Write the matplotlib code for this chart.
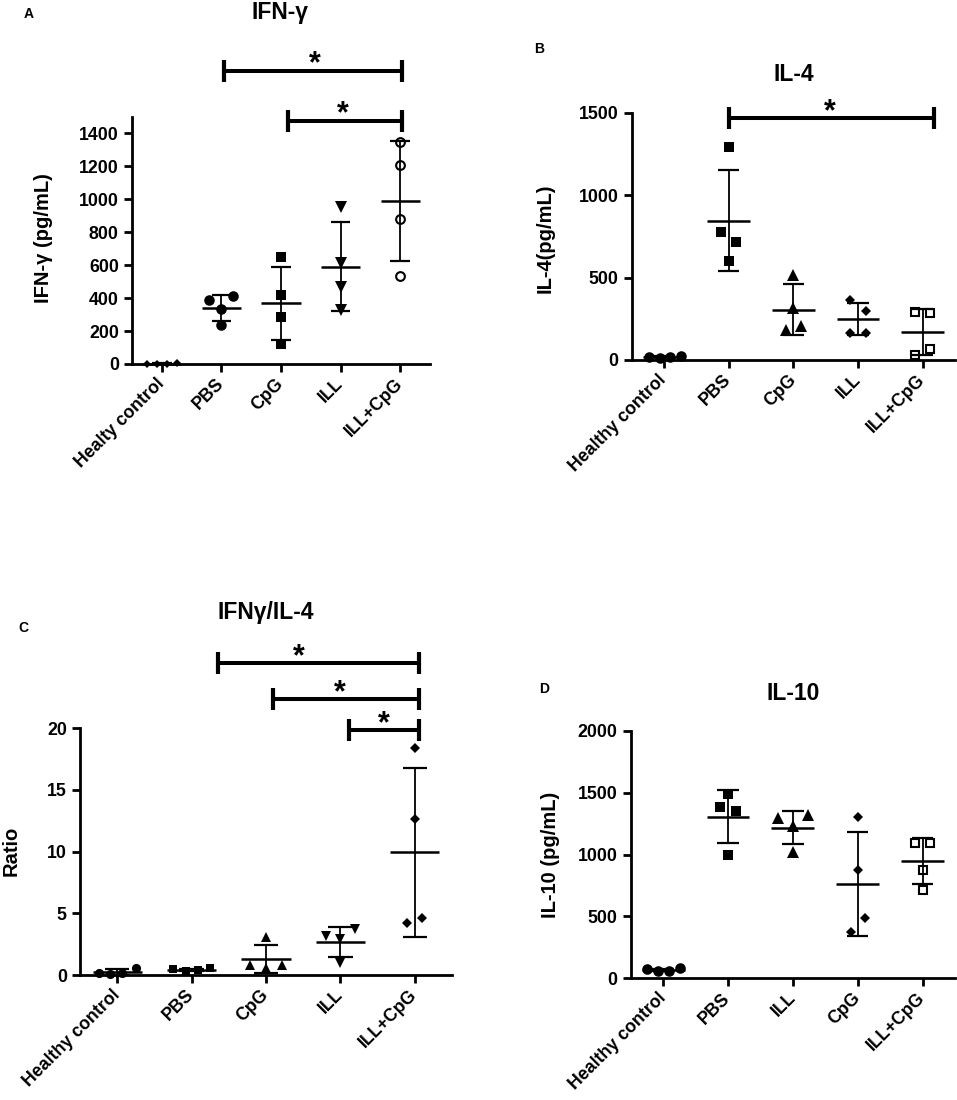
import matplotlib
matplotlib.use('Agg')
import matplotlib.pyplot as plt
import numpy as np

plt.rcParams['font.family'] = ['Liberation Sans', 'DejaVu Sans']
plt.rcParams['font.weight'] = 'bold'

W, H = 957, 1100

# ---------------- data ----------------
# Panel A: IFN-gamma (pg/mL)
a_categories = ["Healty control", "PBS", "CpG", "ILL", "ILL+CpG"]
a_healthy = [3, 2, 3, 4]
a_pbs = [388, 412, 333, 236]
a_cpg = [648, 420, 287, 121]
a_ill = [953, 616, 465, 327]
a_ill_cpg = [1349, 1206, 879, 533]
a_yticks = [0, 200, 400, 600, 800, 1000, 1200, 1400]

# Panel B: IL-4 (pg/mL)
b_categories = ["Healthy control", "PBS", "CpG", "ILL", "ILL+CpG"]
b_healthy = [20, 15, 18, 22]
b_pbs = [1290, 774, 718, 602]
b_cpg = [518, 315, 208, 182]
b_ill = [364, 299, 166, 166]
b_ill_cpg = [289, 287, 65, 30]
b_yticks = [0, 500, 1000, 1500]

# Panel C: IFNγ/IL-4 ratio
c_categories = ["Healthy control", "PBS", "CpG", "ILL", "ILL+CpG"]
c_healthy = [0.2, 0.05, 0.15, 0.55]
c_pbs = [0.46, 0.33, 0.40, 0.54]
c_cpg = [3.05, 0.8, 0.8, 0.54]
c_ill = [3.2, 2.9, 3.7, 0.95]
c_ill_cpg = [18.38, 12.62, 4.19, 4.6]
c_yticks = [0, 5, 10, 15, 20]

# Panel D: IL-10 (pg/mL)
d_categories = ["Healthy control", "PBS", "ILL", "CpG", "ILL+CpG"]
d_healthy = [73, 55, 60, 80]
d_pbs = [1486, 1386, 1354, 996]
d_ill = [1295, 1318, 1228, 1022]
d_cpg = [1305, 875, 490, 377]
d_ill_cpg = [1096, 1096, 875, 713]
d_yticks = [0, 500, 1000, 1500, 2000]

# significance brackets: (start group, end group, height, star position)
a_sig = [(1.04, 4.03, 1781, 2.57), (2.12, 4.03, 1478, 3.04)]
b_sig = [(1.0, 4.18, 1466, 2.56)]
c_sig = [(1.35, 4.05, 25.28, 2.44), (2.09, 4.05, 22.38, 2.99), (3.12, 4.05, 19.86, 3.59)]
d_sig = []

fig = plt.figure(figsize=(W / 100, H / 100), dpi=100)


def draw_panel(box, cats, groups, styles, offsets, ymax, yticks, sig,
               title, title_xy, ylabel, ylabel_xy, letter, letter_xy):
    left, right, y0, ytop = box
    ax = fig.add_axes([left / W, 1 - y0 / H, (right - left) / W, (y0 - ytop) / H])
    ax.set_xlim(-0.5, 4.5)
    ax.set_ylim(0, ymax)
    for i, (vals, st, off) in enumerate(zip(groups, styles, offsets)):
        vals = np.asarray(vals, dtype=float)
        m, ms, filled = st
        xs = i + np.asarray(off)
        if filled:
            ax.plot(xs, vals, ls='none', marker=m, ms=ms, mfc='black', mec='black',
                    mew=0, clip_on=False, zorder=3)
        else:
            ax.plot(xs, vals, ls='none', marker=m, ms=ms, mfc='white', mec='black',
                    mew=1.5, clip_on=False, zorder=3)
        mean = vals.mean()
        sd = vals.std(ddof=1)
        ax.plot([i - 0.33, i + 0.33], [mean, mean], color='black', lw=1.8,
                clip_on=False, zorder=4, solid_capstyle='butt')
        ax.plot([i, i], [mean - sd, mean + sd], color='black', lw=1.3,
                clip_on=False, zorder=4)
        for yy in (mean - sd, mean + sd):
            ax.plot([i - 0.165, i + 0.165], [yy, yy], color='black', lw=1.6,
                    clip_on=False, zorder=4, solid_capstyle='butt')
    for x1, x2, yy, xs in sig:
        ax.plot([x1, x2], [yy, yy], color='black', lw=2.9, clip_on=False,
                solid_capstyle='butt')
        ax.plot([x1, x2], [yy, yy], ls='none', marker='|', ms=15.5, mew=3.0,
                color='black', clip_on=False)
        ax.annotate('*', xy=(xs, yy), xytext=(0, 6), textcoords='offset pixels',
                    ha='center', va='center', fontsize=22, fontweight='bold',
                    annotation_clip=False)
    for s in ('top', 'right'):
        ax.spines[s].set_visible(False)
    for s in ('left', 'bottom'):
        ax.spines[s].set_linewidth(2)
    ax.set_xticks(range(len(cats)))
    ax.set_xticklabels(cats)
    ax.set_yticks(yticks)
    ax.tick_params(axis='both', width=2, length=6, labelsize=12.8)
    ax.tick_params(axis='y', pad=3.5)
    ax.tick_params(axis='x', pad=6.5)
    for lab in ax.get_xticklabels():
        lab.set_rotation(45)
        lab.set_ha('right')
        lab.set_va('center')
        lab.set_rotation_mode('anchor')
        lab.set_fontweight('bold')
    for lab in ax.get_yticklabels():
        lab.set_fontweight('bold')
    fig.text(title_xy[0] / W, 1 - title_xy[1] / H, title, ha='center', va='baseline',
             fontsize=16.5, fontweight='bold')
    fig.text(ylabel_xy[0] / W, 1 - ylabel_xy[1] / H, ylabel, ha='center', va='center',
             rotation=90, fontsize=14.5, fontweight='bold')
    fig.text(letter_xy[0] / W, 1 - letter_xy[1] / H, letter, ha='center', va='baseline',
             fontsize=10, fontweight='bold')
    return ax


# Panel A
draw_panel((132, 430, 364, 117), a_categories,
           [a_healthy, a_pbs, a_cpg, a_ill, a_ill_cpg],
           [('D', 3.8, True), ('o', 7.6, True), ('s', 7.0, True), ('v', 8.0, True), ('o', 6.3, False)],
           [[-0.25, -0.08, 0.08, 0.25], [-0.21, 0.2, 0, 0], [0, 0, 0, 0], [0, 0, 0, 0], [0, 0, 0, 0]],
           1500, a_yticks, a_sig,
           "IFN-γ", (280, 18.5), "IFN-γ (pg/mL)", (43.5, 238), "A", (29, 18.5))

# Panel B
draw_panel((631.7, 955, 360, 112.7), b_categories,
           [b_healthy, b_pbs, b_cpg, b_ill, b_ill_cpg],
           [('o', 7.6, True), ('s', 7.3, True), ('^', 8.0, True), ('D', 5.2, True), ('s', 6.3, False)],
           [[-0.23, -0.07, 0.09, 0.26], [0, -0.12, 0.12, 0], [0, 0, 0.12, -0.12],
            [-0.12, 0.12, -0.12, 0.12], [-0.12, 0.12, 0.12, -0.12]],
           1500, b_yticks, b_sig,
           "IL-4", (793.7, 81), "IL-4(pg/mL)", (545, 238), "B", (539, 53.3))

# Panel C
draw_panel((80, 452, 975, 728.3), c_categories,
           [c_healthy, c_pbs, c_cpg, c_ill, c_ill_cpg],
           [('o', 6.6, True), ('s', 6.3, True), ('^', 7.8, True), ('v', 7.8, True), ('D', 5.2, True)],
           [[-0.25, -0.1, 0.07, 0.25], [-0.25, -0.08, 0.08, 0.25], [0, -0.21, 0.21, 0],
            [-0.2, 0, 0.2, 0], [0, 0, -0.1, 0.1]],
           20, c_yticks, c_sig,
           "IFNγ/IL-4", (265.8, 618.5), "Ratio", (11, 851), "C", (23, 631.7))

# Panel D
draw_panel((630.7, 955, 978.3, 730.7), d_categories,
           [d_healthy, d_pbs, d_ill, d_cpg, d_ill_cpg],
           [('o', 7.6, True), ('s', 7.3, True), ('^', 8.0, True), ('D', 5.2, True), ('s', 6.3, False)],
           [[-0.25, -0.08, 0.09, 0.26], [0, -0.12, 0.12, 0], [-0.23, 0.23, 0, 0],
            [0, 0, 0.11, -0.11], [-0.12, 0.12, 0, 0]],
           2000, d_yticks, d_sig,
           "IL-10", (793.3, 700), "IL-10 (pg/mL)", (551, 855), "D", (544, 693.3))

fig.savefig('out.png', dpi=100)
